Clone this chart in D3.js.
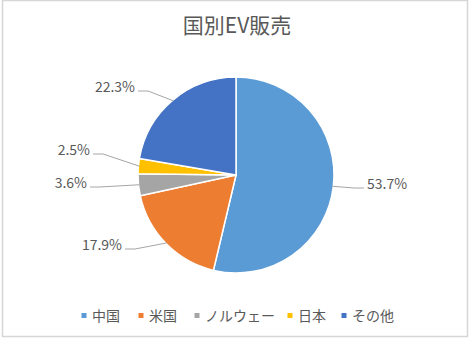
<!DOCTYPE html>
<html>
<head>
<meta charset="utf-8">
<script src="https://cdn.jsdelivr.net/npm/d3@7"></script>
<style>
  html, body { margin: 0; padding: 0; background: #fff; }
  svg { display: block; }
  text { font-family: "Noto Sans CJK JP", "Noto Sans", sans-serif; fill: #595959; }
</style>
</head>
<body>
<svg id="chart" width="471" height="339"></svg>
<script>
// Share of EV sales by country (%)
const categories = ["中国", "米国", "ノルウェー", "日本", "その他"];
const shares = [53.7, 17.9, 3.6, 2.5, 22.3];
const colors = ["#5B9BD5", "#ED7D31", "#A5A5A5", "#FFC000", "#4472C4"];
const title = "国別EV販売";

const W = 471, H = 339;
const cx = 236, cy = 175, R = 98;

const svg = d3.select("#chart");

// outer frame
svg.append("rect")
  .attr("x", 2.5).attr("y", 0.5)
  .attr("width", W - 6).attr("height", H - 3)
  .attr("fill", "#fff")
  .attr("stroke", "#d6d6d6").attr("stroke-width", 1.5);

// title
svg.append("text")
  .attr("x", 237).attr("y", 33)
  .attr("text-anchor", "middle")
  .attr("font-size", 21)
  .text(title);

const data = categories.map((c, i) => ({ name: c, value: shares[i], color: colors[i] }));

const pie = d3.pie().value(d => d.value).sort(null);
const arcs = pie(data);
const arc = d3.arc().innerRadius(0).outerRadius(R);

const g = svg.append("g").attr("transform", `translate(${cx},${cy})`);

g.selectAll("path.slice")
  .data(arcs)
  .join("path")
  .attr("class", "slice")
  .attr("d", arc)
  .attr("fill", d => d.data.color)
  .attr("stroke", "#fff")
  .attr("stroke-width", 1.5)
  .attr("stroke-linejoin", "round");

// label anchors (relative to pie centre) and which side the text sits on
const labelLayout = [
  { dx: 131, dy: 9, side: 1 },
  { dx: -114, dy: 70, side: -1 },
  { dx: -149, dy: 8, side: -1 },
  { dx: -146, dy: -25, side: -1 },
  { dx: -101, dy: -88, side: -1 }
];

const fmt = v => v.toFixed(1) + "%";

arcs.forEach((a, i) => {
  const L = labelLayout[i];
  const mid = (a.startAngle + a.endAngle) / 2;
  const ex = Math.sin(mid) * (R - 1);
  const ey = -Math.cos(mid) * (R - 1);
  const tx = L.dx, ty = L.dy;
  const lx = tx + L.side * -3;           // line start next to the text
  const ly = ty + 4;
  const kx = lx + L.side * -10;          // short horizontal elbow
  const pts = [[lx, ly], [kx, ly], [ex, ey]];
  g.append("polyline")
    .attr("points", pts.map(p => p.join(",")).join(" "))
    .attr("fill", "none")
    .attr("stroke", "#a6a6a6")
    .attr("stroke-width", 1);
  g.append("text")
    .attr("x", tx).attr("y", ty)
    .attr("dy", "0.36em")
    .attr("text-anchor", L.side > 0 ? "start" : "end")
    .attr("font-size", 14)
    .text(fmt(a.data.value));
});

// legend
const legendX = [84, 141, 197, 290, 344];
const legend = svg.append("g");
data.forEach((d, i) => {
  legend.append("rect")
    .attr("x", legendX[i] - 2.5).attr("y", 313)
    .attr("width", 5).attr("height", 5)
    .attr("fill", d.color);
  legend.append("text")
    .attr("x", legendX[i] + 8).attr("y", 316)
    .attr("dy", "0.36em")
    .attr("font-size", 14)
    .text(d.name);
});
</script>
</body>
</html>
